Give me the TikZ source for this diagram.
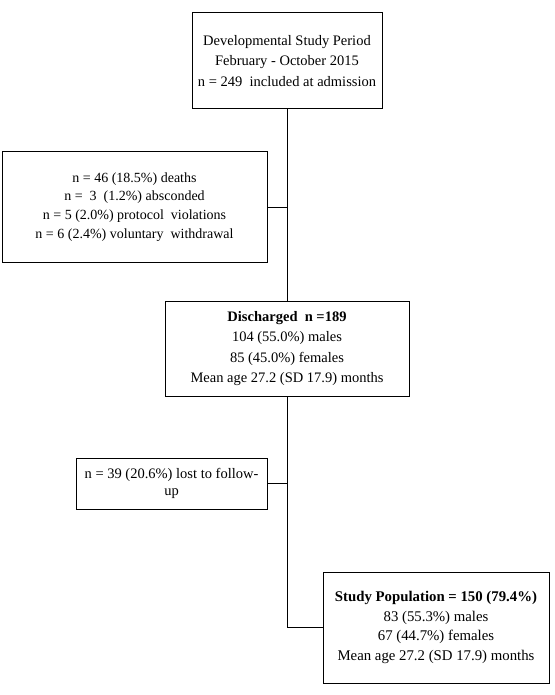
\documentclass[tikz,border=0pt]{standalone}
\usepackage{fontspec}
\setmainfont{Liberation Serif}
\begin{document}
\begin{tikzpicture}[x=1pt,y=-1pt,line width=1pt,font=\fontsize{14.5}{20.3}\selectfont,
  box/.style={draw,align=center,inner sep=0pt}]
\useasboundingbox (0,0) rectangle (554,695);
\node[box,minimum width=190pt,minimum height=96pt](period) at (287,61){Developmental Study Period\\February - October 2015\\n = 249 \ included at admission};
\node[box,minimum width=265pt,minimum height=110pt,font=\fontsize{14}{18.7}\selectfont](excluded) at (134.5,207){n = 46 (18.5\%) deaths\\n = \ 3 \ (1.2\%) absconded\\n = 5 (2.0\%) protocol \ violations\\n = 6 (2.4\%) voluntary \ withdrawal};
\node[box,minimum width=244pt,minimum height=95pt](discharged) at (287,348.5){\textbf{Discharged \ n =189}\\104 (55.0\%) males\\85 (45.0\%) females\\Mean age 27.2 (SD 17.9) months};
\node[box,minimum width=191pt,minimum height=51pt,font=\fontsize{14.5}{16.5}\selectfont](lost) at (171.5,483.5){n = 39 (20.6\%) lost to follow-\\up};
\node[box,minimum width=226pt,minimum height=111pt,font=\fontsize{14.8}{19.5}\selectfont](population) at (436,627.5){\textbf{Study Population = 150 (79.4\%)}\\83 (55.3\%) males\\67 (44.7\%) females\\Mean age 27.2 (SD 17.9) months};
\draw(period)--(discharged);
\draw(excluded.east)--(excluded.east-|period.south);
\draw(discharged.south)|-(population.west);
\draw(lost.east)--(lost.east-|discharged.south);
\end{tikzpicture}
\end{document}
